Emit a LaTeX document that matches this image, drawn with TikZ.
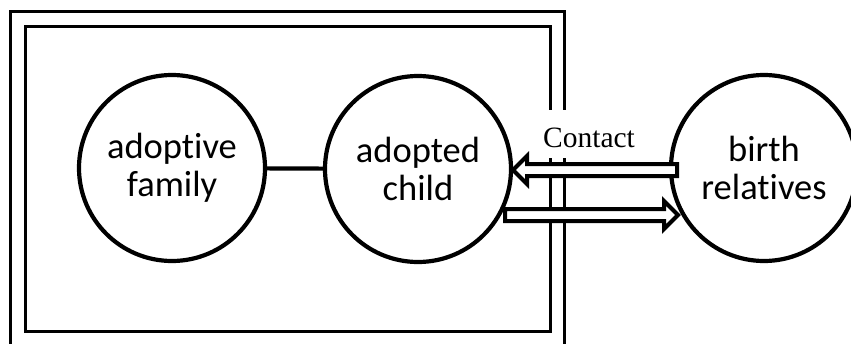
\documentclass[tikz,border=0pt]{standalone}
\usepackage{fontspec}
\setmainfont[Ligatures=NoCommon]{Carlito}
\newfontfamily\serifcontact{Liberation Serif}
\begin{document}
\begin{tikzpicture}[x=1pt,y=-1pt,
  person/.style={circle, draw, line width=4.2pt, fill=white, minimum size=186pt, inner sep=0pt,
    align=center, font=\fontsize{36.5}{38}\selectfont},
  frame/.style={draw, line width=2.6pt},
  hollowarrow/.style={draw, line width=4pt, fill=white, line join=miter}]
\useasboundingbox (0,0) rectangle (851,343);
\begin{scope}
\clip (0,0) rectangle (851,343);
\node[frame, minimum width=554pt, minimum height=350pt, anchor=north west, inner sep=0pt] (outer) at (9,10) {};
\end{scope}
\node[frame, minimum width=525pt, minimum height=305pt, anchor=north west, inner sep=0pt] (inner) at (24,25) {};
\node[person] (af) at (172,168) {adoptive\\family};
\node[person] (ac) at (418,169) {adopted\\child};
\node[person] (br) at (764,168) {birth\\relatives};
\draw[line width=4.2pt] (af) -- (ac);
\node[fill=white, inner sep=1pt, text height=36pt, text depth=10pt, anchor=base, font=\serifcontact\fontsize{29.5}{30}\selectfont] (contact) at (589,147) {Contact};
\coordinate (up) at (677,170);
\coordinate (lo) at (505,215);
\draw[hollowarrow] (up) ++(0,-6) -- ++(-150,0) -- ++(0,-8) -- ++(-14,14) -- ++(14,14) -- ++(0,-8) -- ++(150,0) -- cycle;
\draw[hollowarrow] (lo) ++(0,-6) -- ++(159,0) -- ++(0,-8) -- ++(14,14) -- ++(-14,14) -- ++(0,-8) -- ++(-159,0) -- cycle;
\end{tikzpicture}
\end{document}
